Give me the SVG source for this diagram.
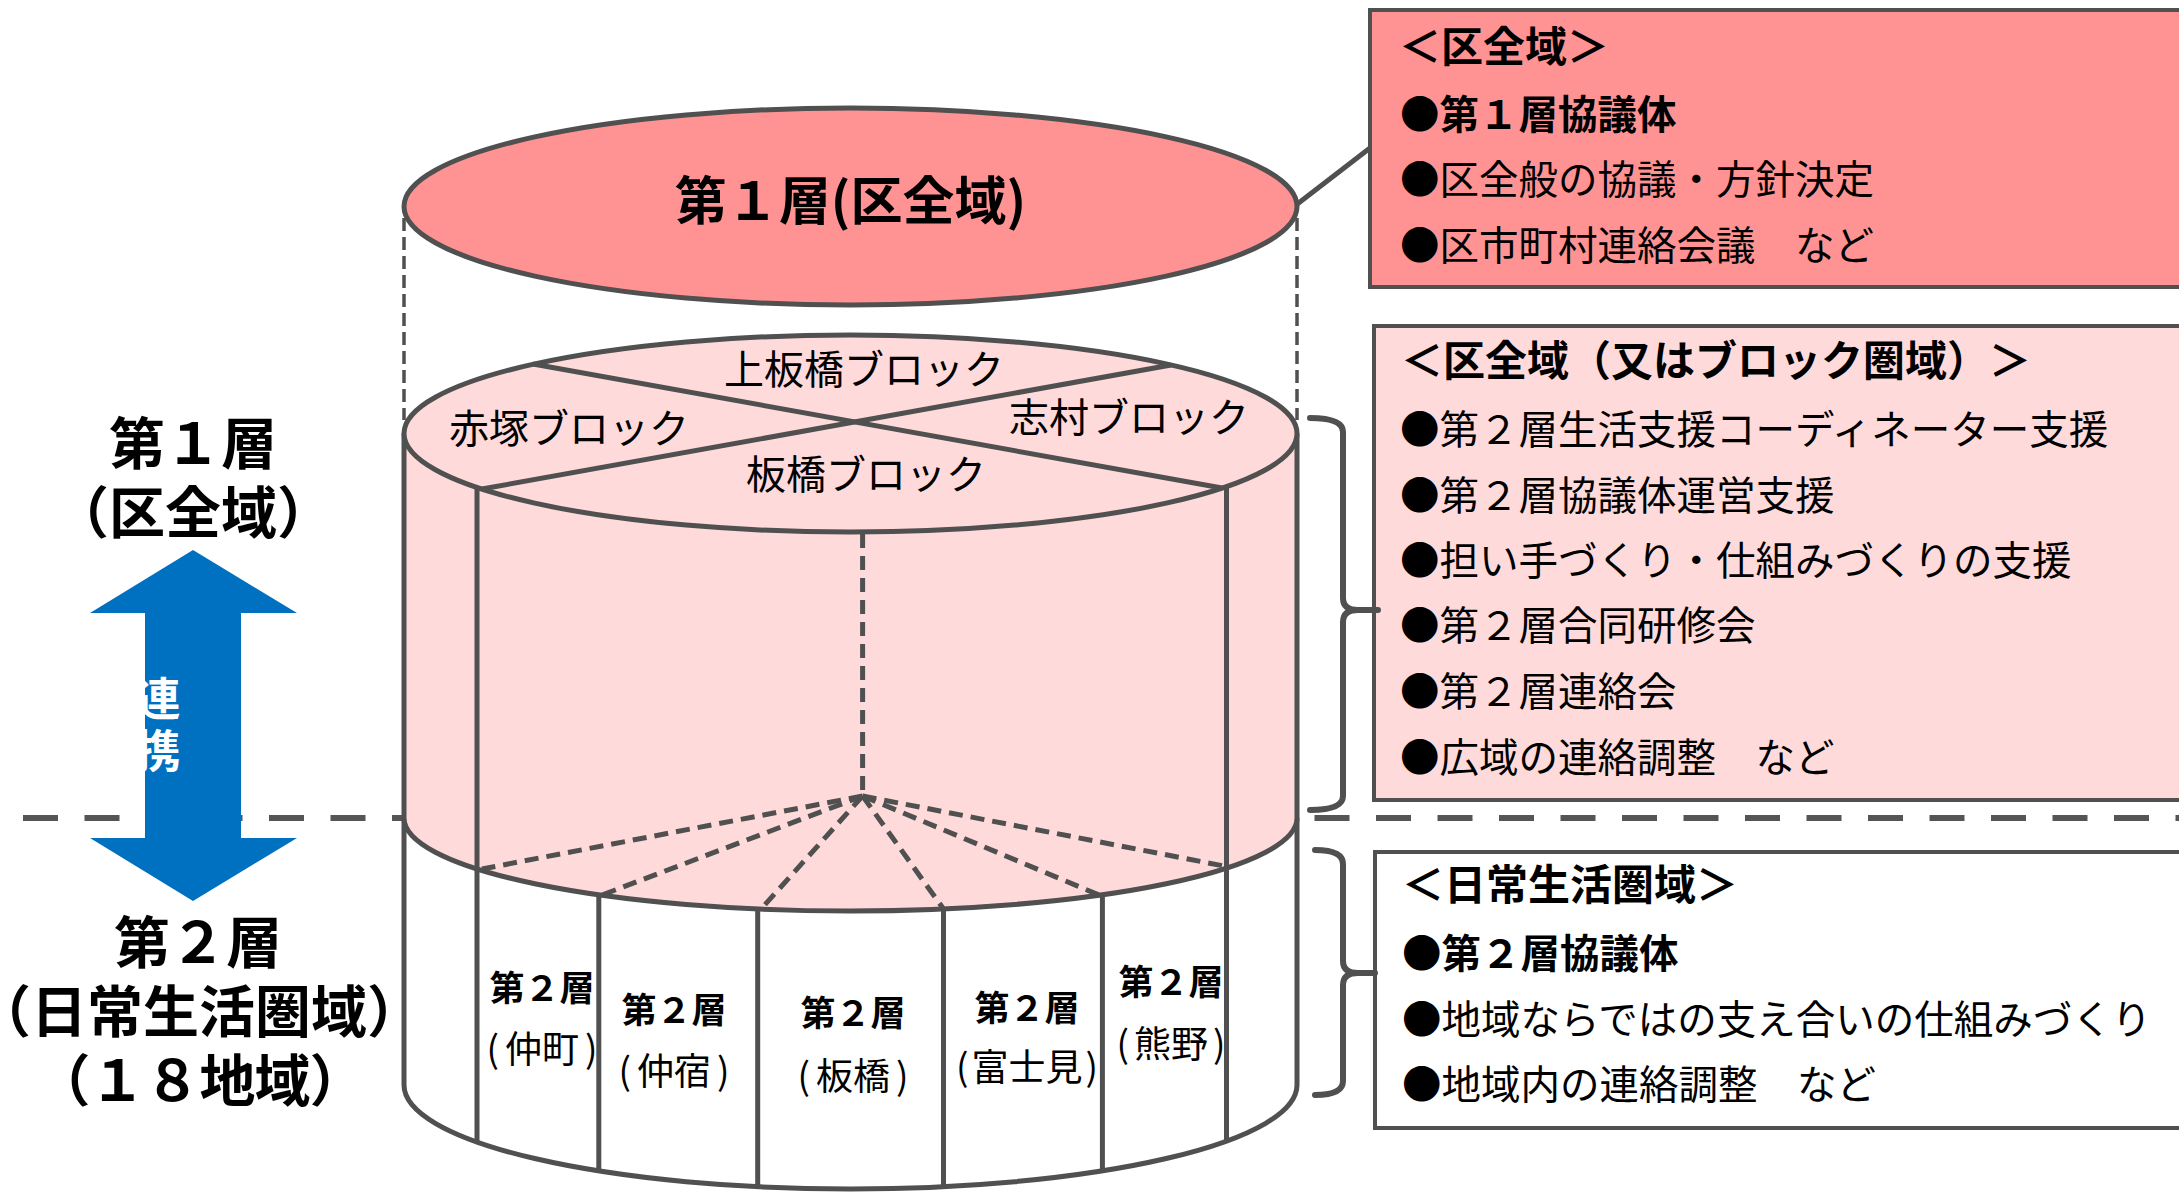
<svg xmlns="http://www.w3.org/2000/svg" width="2179" height="1194" viewBox="0 0 2179 1194">
<style>
text { font-family: "Noto Sans CJK JP", "Noto Sans CJK SC", sans-serif; fill: #000; }
.b { font-weight: 700; }
.mid { text-anchor: middle; }
.ln { stroke: #505050; stroke-width: 5; fill: none; stroke-linejoin: round; }
.face { stroke: #505050; stroke-width: 5; stroke-linejoin: round; }
.dsh { stroke: #505050; stroke-width: 5; fill: none; stroke-dasharray: 14 8; }
.dshT { stroke: #505050; stroke-width: 3.5; fill: none; stroke-dasharray: 13 6; }
.brace { stroke: #505050; stroke-width: 6; fill: none; stroke-linejoin: round; stroke-linecap: round; }
.box { stroke: #505050; stroke-width: 4; }
.body { font-size: 39.5px; }
.head { font-size: 42px; font-weight: 700; }
.blk { font-size: 40px; }
.c2 { font-size: 35px; font-weight: 700; }
.c2n { font-size: 37px; }
.lbl { font-size: 56px; font-weight: 700; }
</style>

<!-- level separator dashed line -->
<line x1="23" y1="818" x2="2179" y2="818" stroke="#555" stroke-width="6" stroke-dasharray="35 26.5"/>

<!-- left labels and arrow -->
<g id="left-labels">
  <text class="lbl mid" x="193" y="464">第１層</text>
  <text class="lbl mid" x="193" y="533">（区全域）</text>
  <text class="lbl mid" x="198" y="963">第２層</text>
  <text class="lbl mid" x="199" y="1032">（日常生活圏域）</text>
  <text class="lbl mid" x="200" y="1101" textLength="331" lengthAdjust="spacing">（１８地域）</text>
</g>
<g id="arrow-renkei">
  <polygon points="193,550 297,613 241,613 241,838 297,838 193,901 90,838 145,838 145,613 90,613" fill="#0070C0"/>
  <text class="b mid" x="158" y="716" style="fill:#fff;font-size:45px">連</text>
  <text class="b mid" x="158" y="768" style="fill:#fff;font-size:45px">携</text>
</g>

<!-- cylinder -->
<g id="cylinder">
  <!-- white lower band -->
  <path style="fill:#fff" d="M404,818 L404,1085 A446.5,104 0 0 0 1297,1085 L1297,818 Z"/>
  <path class="ln" d="M404,818 L404,1085 A446.5,104 0 0 0 1297,1085 L1297,818"/>
  <!-- pink body -->
  <path style="fill:#FFDADA" d="M404,433.5 L404,818 A446.5,93 0 0 0 1297,818 L1297,433.5 Z"/>
  <path class="ln" d="M404,433.5 L404,818 A446.5,93 0 0 0 1297,818 L1297,433.5"/>
  <!-- top face of cylinder -->
  <ellipse class="face" style="fill:#FFDADA" cx="850.5" cy="433.5" rx="446.5" ry="98.5"/>
  <line class="ln" x1="533" y1="364" x2="1222" y2="488"/>
  <line class="ln" x1="1171" y1="365" x2="482" y2="489"/>
  <!-- inner verticals -->
  <line class="ln" x1="477" y1="487.5" x2="477" y2="1142"/>
  <line class="ln" x1="1226.5" y1="487.5" x2="1226.5" y2="1142"/>
  <!-- band dividers -->
  <line class="ln" x1="598.8" y1="894.8" x2="598.8" y2="1171"/>
  <line class="ln" x1="757.7" y1="909" x2="757.7" y2="1187"/>
  <line class="ln" x1="943.5" y1="909" x2="943.5" y2="1187"/>
  <line class="ln" x1="1102.4" y1="894.8" x2="1102.4" y2="1171"/>
  <!-- dashed center and radials -->
  <line class="dsh" x1="862.6" y1="534" x2="862.6" y2="796"/>
  <line class="dsh" x1="862.6" y1="796" x2="482" y2="869"/>
  <line class="dsh" x1="862.6" y1="796" x2="602" y2="895"/>
  <line class="dsh" x1="862.6" y1="796" x2="761" y2="909"/>
  <line class="dsh" x1="862.6" y1="796" x2="943.5" y2="909"/>
  <line class="dsh" x1="862.6" y1="796" x2="1099" y2="895"/>
  <line class="dsh" x1="862.6" y1="796" x2="1224" y2="866"/>
  <!-- block labels -->
  <text class="blk mid" x="864" y="384">上板橋ブロック</text>
  <text class="blk mid" x="569" y="443">赤塚ブロック</text>
  <text class="blk mid" x="1129" y="432">志村ブロック</text>
  <text class="blk mid" x="866" y="489">板橋ブロック</text>
  <!-- area labels -->
  <text class="c2 mid" x="542" y="1001">第２層</text>
  <text class="c2n mid" x="542" y="1063">(<tspan dx="6">仲町</tspan><tspan dx="6">)</tspan></text>
  <text class="c2 mid" x="674" y="1023">第２層</text>
  <text class="c2n mid" x="674" y="1085">(<tspan dx="6">仲宿</tspan><tspan dx="6">)</tspan></text>
  <text class="c2 mid" x="853" y="1026">第２層</text>
  <text class="c2n mid" x="853" y="1090">(<tspan dx="6">板橋</tspan><tspan dx="6">)</tspan></text>
  <text class="c2 mid" x="1027" y="1021">第２層</text>
  <text class="c2n mid" x="1027" y="1081">(<tspan dx="3">富士見</tspan><tspan dx="3">)</tspan></text>
  <text class="c2 mid" x="1171" y="995">第２層</text>
  <text class="c2n mid" x="1171" y="1058">(<tspan dx="5">熊野</tspan><tspan dx="5">)</tspan></text>
</g>

<!-- top layer ellipse -->
<g id="layer1-ellipse">
  <line class="dshT" x1="404" y1="218" x2="404" y2="420"/>
  <line class="dshT" x1="1297" y1="218" x2="1297" y2="420"/>
  <ellipse class="face" style="fill:#FF9393" cx="850.5" cy="206.5" rx="446.5" ry="98.5"/>
  <text class="b mid" x="850.5" y="220" style="font-size:52px">第１層(区全域)</text>
</g>

<!-- right boxes -->
<g id="box-ward">
  <rect class="box" style="fill:#FF9393" x="1370" y="10" width="900" height="277"/>
  <text class="head" x="1399" y="62">＜区全域＞</text>
  <text class="body b" x="1400" y="129">●第１層協議体</text>
  <text class="body" x="1400" y="194">●区全般の協議・方針決定</text>
  <text class="body" x="1400" y="260">●区市町村連絡会議　など</text>
</g>
<g id="box-block">
  <rect class="box" style="fill:#FFDADA" x="1374" y="326" width="900" height="474"/>
  <text class="head" x="1401" y="376">＜区全域（又はブロック圏域）＞</text>
  <text class="body" x="1400" y="444">●第２層生活支援コーディネーター支援</text>
  <text class="body" x="1400" y="510">●第２層協議体運営支援</text>
  <text class="body" x="1400" y="575">●担い手づくり・仕組みづくりの支援</text>
  <text class="body" x="1400" y="640">●第２層合同研修会</text>
  <text class="body" x="1400" y="706">●第２層連絡会</text>
  <text class="body" x="1400" y="772">●広域の連絡調整　など</text>
</g>
<g id="box-daily">
  <rect class="box" style="fill:#fff" x="1375" y="852" width="900" height="276"/>
  <text class="head" x="1402" y="900">＜日常生活圏域＞</text>
  <text class="body b" x="1402" y="968">●第２層協議体</text>
  <text class="body" x="1402" y="1034">●地域ならではの支え合いの仕組みづくり</text>
  <text class="body" x="1402" y="1099">●地域内の連絡調整　など</text>
</g>

<!-- connectors -->
<g id="connectors">
  <line class="ln" x1="1296" y1="205" x2="1370" y2="148"/>
  <path class="brace" d="M1310,418 Q1343,418 1343,432 V598 Q1343,610 1358,610 H1378 M1358,610 Q1343,610 1343,622 V796 Q1343,810 1310,810"/>
  <path class="brace" d="M1315,850 Q1343,850 1343,864 V961 Q1343,973 1358,973 H1375 M1358,973 Q1343,973 1343,985 V1081 Q1343,1095 1315,1095"/>
</g>
</svg>
